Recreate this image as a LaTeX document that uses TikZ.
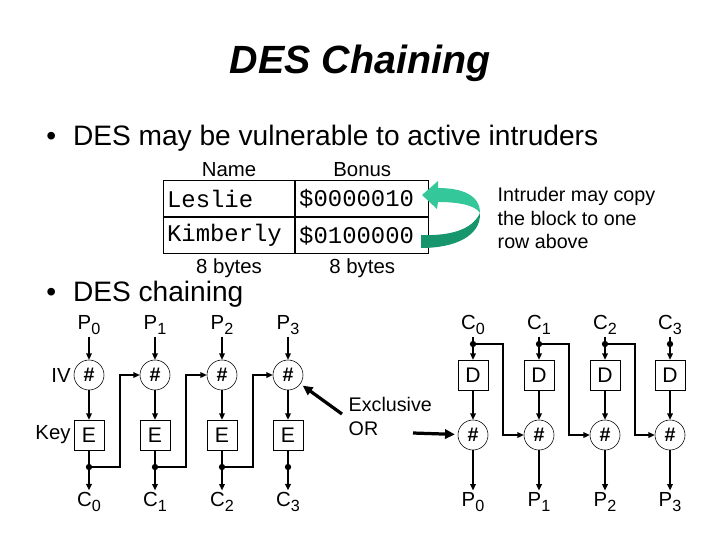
\documentclass[tikz,border=0pt]{standalone}
\usepackage{fontspec}
\setmainfont{Liberation Sans}
\setmonofont{Liberation Mono}
\usetikzlibrary{positioning,arrows.meta,calc}
\definecolor{ribbonlight}{HTML}{33C79A}
\definecolor{ribbondark}{HTML}{17966E}
\newcommand{\blk}[2]{#1\raisebox{-4pt}{\fontsize{11.5}{11.5}\selectfont #2}}

\tikzset{
  xorop/.style={draw, circle, minimum size=0.75cm, inner sep=0pt,
                font=\fontsize{14}{14}\selectfont\bfseries},
  cipherbox/.style={draw, minimum size=0.75cm, inner sep=0pt,
                    font=\fontsize{15}{15}\selectfont},
  lbl/.style={font=\fontsize{14.5}{14.5}\selectfont, inner sep=1pt},
  cell/.style={draw, line width=0.8pt, minimum height=0.9cm, inner sep=2.5pt,
               align=left, font=\fontsize{17}{17}\selectfont\ttfamily},
  flow/.style={-{Triangle[length=4.5pt,width=4pt]}, line width=1pt},
  pointer/.style={-{Triangle[length=7pt,width=6.5pt]}, line width=2.3pt},
  junction/.style={circle, fill, inner sep=0pt, minimum size=4.5pt},
}

\begin{document}
\begin{tikzpicture}[x=0.025cm, y=-0.025cm]
  \useasboundingbox (0,0) rectangle (720,540);

  % title and bullets
  \node[font=\fontsize{28}{28}\selectfont\bfseries\itshape] (title) at (360,63) {DES Chaining};
  \node[anchor=base west, inner sep=0pt, font=\fontsize{20}{20}\selectfont] (intro) at (46,145)
    {•\hspace{12pt}DES may be vulnerable to active intruders};
  \node[anchor=base west, inner sep=0pt, font=\fontsize{20}{20}\selectfont] (chain) at (46,301)
    {•\hspace{12pt}DES chaining};

  % record table
  \node[cell, text width=3.275cm-5pt, anchor=north west] (n1) at (163,180) {Leslie};
  \node[cell, text width=3.275cm-5pt, below=0pt of n1] (n2) {Kimberly};
  \node[cell, text width=3.325cm-5pt, right=0pt of n1] (b1) {\$0000010};
  \node[cell, text width=3.325cm-5pt, below=0pt of b1] (b2) {\$0100000};
  \node[lbl, above=1pt of n1] (namehead) {Name};
  \node[lbl, above=1pt of b1] (bonushead) {Bonus};
  \node[lbl, below=2pt of n2] (namesize) {8 bytes};
  \node[lbl, below=2pt of b2] (bonussize) {8 bytes};

  % copy arrow
  \fill[ribbondark] (421,235) .. controls (450,236) and (472,230) .. (480,213)
    .. controls (481,236) and (455,248) .. (421,248) -- cycle;
  \fill[ribbonlight] (480,213) .. controls (480,195) and (462,188) .. (438,188)
    -- (438,181) -- (422,195) -- (437,209) -- (438,202)
    .. controls (458,202) and (475,205) .. (480,213) -- cycle;
  \node[lbl, anchor=north west, align=left, font=\fontsize{14}{16.5}\selectfont] (copynote) at (496,186)
    {Intruder may copy\\the block to one\\row above};

  % encryption chain
  \foreach \i/\x in {0/89,1/155,2/222,3/288} {
    \node[lbl] (p\i) at (\x,325) {\blk{P}{\i}};
    \node[xorop] (x\i) at (\x,375) {\#};
    \node[cipherbox] (e\i) at (\x,435) {E};
    \coordinate (j\i) at (\x,467);
    \node[lbl] (c\i) at (\x,502) {\blk{C}{\i}};
    \draw[flow] (p\i) -- (x\i);
    \draw[flow] (x\i) -- (e\i);
    \draw[flow] (e\i) -- (j\i) -- (c\i);
    \node[junction] at (j\i) {};
  }
  \foreach \i/\n in {0/1,1/2,2/3}
    \draw[flow] (j\i) -- ++(31,0) |- (x\n);
  \node[lbl, left=1pt of x0] (ivlbl) {IV};
  \node[lbl, left=1pt of e0] (keylbl) {Key};

  % decryption chain
  \foreach \i/\x in {0/473,1/539,2/605,3/670} {
    \node[lbl] (cc\i) at (\x,325) {\blk{C}{\i}};
    \coordinate (k\i) at (\x,344);
    \node[cipherbox] (d\i) at (\x,375) {D};
    \node[xorop] (y\i) at (\x,435) {\#};
    \node[lbl] (pp\i) at (\x,502) {\blk{P}{\i}};
    \draw[flow] (cc\i) -- (k\i) -- (d\i);
    \draw[flow] (d\i) -- (y\i);
    \draw[flow] (y\i) -- (pp\i);
    \node[junction] at (k\i) {};
  }
  \foreach \i/\n in {0/1,1/2,2/3}
    \draw[flow] (k\i) -- ++(30,0) |- (y\n);

  % exclusive or note
  \node[lbl, anchor=north west, align=left, font=\fontsize{14}{16.5}\selectfont] (xornote) at (347,396)
    {Exclusive\\OR};
  \coordinate (xorA) at (342,414);
  \coordinate (xorB) at (413,433);
  \draw[pointer, shorten >=2pt] (xorA) -- (x3);
  \draw[pointer, shorten >=2pt] (xorB) -- (y0);
\end{tikzpicture}
\end{document}
